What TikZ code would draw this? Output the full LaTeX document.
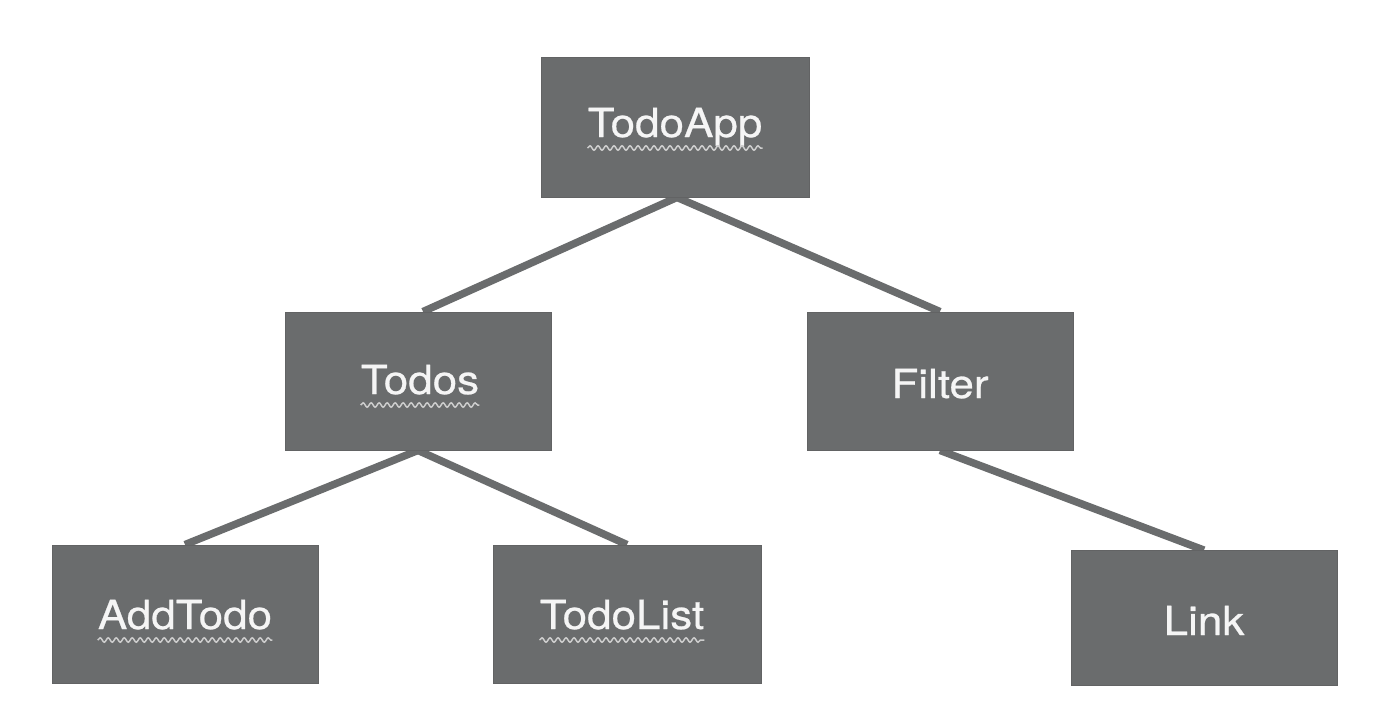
\documentclass[tikz,border=0pt]{standalone}
\usepackage{fontspec}
\setmainfont{TeX Gyre Heros}[FakeStretch=1.1,FakeBold=0.6]
\usetikzlibrary{backgrounds,decorations.pathmorphing}
\definecolor{boxgray}{RGB}{106,108,109}
\definecolor{txtwhite}{RGB}{245,245,245}
\definecolor{squig}{RGB}{205,205,205}
\tikzset{
  compbox/.style={draw=boxgray!92!black, line width=0.8pt, fill=boxgray, minimum width=266, minimum height=138, inner sep=0pt},
  lbl/.style={text=txtwhite, font=\fontsize{40}{44}\selectfont, inner sep=0pt, anchor=base},
  link/.style={draw=boxgray, line width=7.5pt},
  squiggle/.style={draw=squig, line width=1.5pt, decorate, decoration={snake, segment length=8pt, amplitude=2.2pt}}
}
\begin{document}
\begin{tikzpicture}[x=1pt,y=-1pt]
\useasboundingbox (0,0) rectangle (1392,724);
\node[compbox, minimum width=268, minimum height=140] (app) at (675,127) {};
\node[compbox] (todos) at (418,381) {};
\node[compbox] (filter) at (940,381) {};
\node[compbox] (add) at (185,614) {};
\node[compbox, minimum width=268] (list) at (627,614) {};
\node[compbox, minimum height=135] (linkbox) at (1204,618) {};
\node[lbl] (tApp) at (675,137) {TodoApp};
\node[lbl] (tTodos) at (420,394) {Todos};
\node[lbl] (tFilter) at (940,398) {Filter};
\node[lbl] (tAdd) at (185,629) {AddTodo};
\node[lbl] (tList) at (622,629) {TodoList};
\node[lbl] (tLink) at (1204,635) {Link};
\foreach \n in {tApp,tTodos,tAdd,tList}{
  \draw[squiggle] ([yshift=-11pt]\n.base west) -- ([yshift=-11pt]\n.base east);
}
\begin{scope}[on background layer]
\fill[white] (0,0) rectangle (1392,724);
\draw[link] ([xshift=2pt]app.south) -- ([xshift=5pt]todos.north);
\draw[link] ([xshift=2pt]app.south) -- (filter.north);
\draw[link] (todos.south) -- (add.north);
\draw[link] (todos.south) -- (list.north);
\draw[link] (filter.south) -- (linkbox.north);
\end{scope}
\end{tikzpicture}
\end{document}
